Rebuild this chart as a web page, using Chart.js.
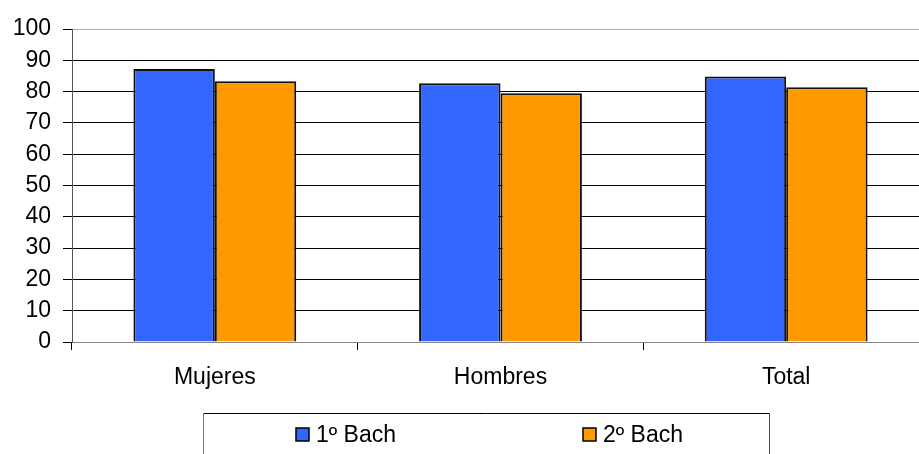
<!DOCTYPE html>
<html>
<head>
<meta charset="utf-8">
<script src="https://cdn.jsdelivr.net/npm/chart.js@4/dist/chart.umd.min.js"></script>
<style>
  html, body { margin: 0; padding: 0; background: #fff; overflow: hidden; }
  #wrap { width: 919px; height: 454px; overflow: hidden; position: relative; }
  canvas { display: block; }
</style>
</head>
<body>
<div id="wrap"><canvas id="c" width="929" height="454"></canvas></div>
<script>
const categories = ['Mujeres', 'Hombres', 'Total'];
const seriesNames = ['1º Bach', '2º Bach'];
const bach1 = [87.2, 82.7, 84.8];
const bach2 = [83.3, 79.5, 81.4];
const yTicks = [0, 10, 20, 30, 40, 50, 60, 70, 80, 90, 100];

const FONT = '"Liberation Sans", Arial, sans-serif';

const boxLegend = {
  id: 'boxLegend',
  afterDraw(chart) {
    const ctx = chart.ctx;
    ctx.save();
    // legend frame
    ctx.lineWidth = 1;
    ctx.strokeStyle = '#000';
    ctx.beginPath(); ctx.moveTo(203, 413.5); ctx.lineTo(770, 413.5); ctx.stroke();
    ctx.strokeStyle = '#777';
    ctx.beginPath(); ctx.moveTo(203.5, 413); ctx.lineTo(203.5, 460); ctx.stroke();
    ctx.strokeStyle = '#444';
    ctx.beginPath(); ctx.moveTo(769.5, 413); ctx.lineTo(769.5, 460); ctx.stroke();
    const xs = [296, 583];
    chart.data.datasets.forEach((ds, i) => {
      const x = xs[i];
      ctx.fillStyle = ds.backgroundColor;
      ctx.fillRect(x, 428, 13, 13);
      ctx.lineWidth = 1.5;
      ctx.strokeStyle = '#000';
      ctx.strokeRect(x, 428, 13, 13);
      ctx.fillStyle = '#000';
      ctx.font = '23px ' + FONT;
      ctx.textBaseline = 'alphabetic';
      ctx.textAlign = 'left';
      ctx.fillText(ds.label, x + 20, 442);
    });
    ctx.restore();
  }
};

new Chart(document.getElementById('c'), {
  type: 'bar',
  data: {
    labels: categories,
    datasets: [
      { label: seriesNames[0], data: bach1, backgroundColor: '#3366FF', borderColor: '#111', borderWidth: 2 },
      { label: seriesNames[1], data: bach2, backgroundColor: '#FF9900', borderColor: '#111', borderWidth: 2 }
    ]
  },
  options: {
    responsive: false,
    animation: false,
    events: [],
    layout: { padding: { top: 29, left: 0, right: 0, bottom: 0 } },
    datasets: { bar: { categoryPercentage: 0.57, barPercentage: 1.0 } },
    plugins: { legend: { display: false }, tooltip: { enabled: false }, title: { display: false } },
    scales: {
      x: {
        afterFit(s) { s.height = 112; },
        grid: { offset: true, drawOnChartArea: false, drawTicks: true, tickLength: 8, tickColor: '#000', color: '#000' },
        border: { display: true, color: '#888', width: 1 },
        ticks: { color: '#000', font: { family: FONT, size: 23 }, padding: 14, maxRotation: 0 }
      },
      y: {
        min: 0, max: 100,
        afterFit(s) { s.width = 72; },
        afterBuildTicks(s) { s.ticks = yTicks.map(v => ({ value: v })); },
        grid: {
          color: c => (c.tick && c.tick.value === 100) ? '#aaa' : (c.tick && c.tick.value === 0 ? '#888' : '#000'),
          tickColor: '#000', tickLength: 9, lineWidth: 1
        },
        border: { display: true, color: '#555', width: 1 },
        ticks: { color: '#000', font: { family: FONT, size: 23 }, padding: 12, stepSize: 10 }
      }
    }
  },
  plugins: [boxLegend]
});
</script>
</body>
</html>
